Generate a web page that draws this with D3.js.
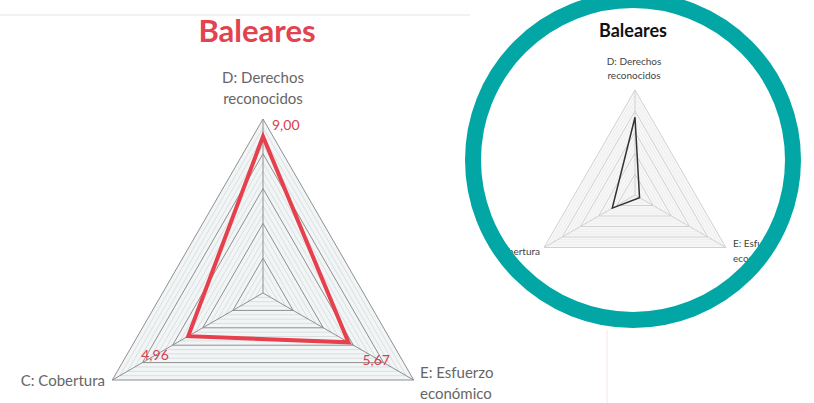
<!DOCTYPE html>
<html>
<head>
<meta charset="utf-8">
<script src="https://cdn.jsdelivr.net/npm/d3@7"></script>
<style>
  html, body { margin: 0; padding: 0; background: #ffffff; }
  svg { display: block; font-family: Lato, "Open Sans", sans-serif; }
</style>
</head>
<body>
<svg id="chart" width="814" height="403"></svg>
<script>
// ---- data ----
const title = "Baleares";
const axisKeys = ["D", "E", "C"];
const axisLabelLines = [["D: Derechos", "reconocidos"], ["E: Esfuerzo", "económico"], ["C: Cobertura"]];
const mainValues = [9.00, 5.67, 4.96];
const mainValueLabels = ["9,00", "5,67", "4,96"];
const insetValues = [7.4, 0.5, 2.5];
const gridLevels = [2, 4, 6, 8, 10];
const minorLevels = d3.range(0.5, 10, 0.5).filter(v => v % 2 !== 0);
const maxValue = 10;

const svg = d3.select("#chart");
const angle = i => i * 2 * Math.PI / axisKeys.length;

// faint background decorations
svg.append("line").attr("x1", 0).attr("x2", 470).attr("y1", 15).attr("y2", 15)
  .attr("stroke", "#f1f1f1").attr("stroke-width", 2);
svg.append("line").attr("x1", 607).attr("x2", 607).attr("y1", 330).attr("y2", 403)
  .attr("stroke", "#f8eded").attr("stroke-width", 1.5);

function radar(g, cx, cy, R, opts) {
  const r = d3.scaleLinear().domain([0, maxValue]).range([0, R]);
  const pt = (i, v) => [cx + r(v) * Math.sin(angle(i)), cy - r(v) * Math.cos(angle(i))];
  const ring = v => d3.lineRadial().angle((d, i) => angle(i)).radius(() => r(v)).curve(d3.curveLinearClosed)(axisKeys);
  const gg = g.append("g").attr("transform", `translate(${cx},${cy})`);
  gg.append("path").attr("d", ring(maxValue)).attr("fill", opts.fill);
  gg.selectAll("path.minor").data(minorLevels).join("path").attr("class", "minor")
    .attr("d", d => ring(d)).attr("fill", "none")
    .attr("stroke", opts.minor).attr("stroke-width", opts.minorW);
  gg.selectAll("path.major").data(gridLevels).join("path").attr("class", "major")
    .attr("d", d => ring(d)).attr("fill", "none")
    .attr("stroke", opts.major).attr("stroke-width", opts.majorW);
  gg.selectAll("line.spoke").data(axisKeys).join("line").attr("class", "spoke")
    .attr("x1", 0).attr("y1", 0)
    .attr("x2", (d, i) => r(maxValue) * Math.sin(angle(i)))
    .attr("y2", (d, i) => -r(maxValue) * Math.cos(angle(i)))
    .attr("stroke", opts.major).attr("stroke-width", opts.majorW);
  const line = d3.lineRadial().angle((d, i) => angle(i)).radius(d => r(d)).curve(d3.curveLinearClosed);
  gg.append("path").attr("d", line(opts.values)).attr("fill", "none")
    .attr("stroke", opts.dataColor).attr("stroke-width", opts.dataW).attr("stroke-linejoin", "miter");
  return pt;
}

// ---- main chart ----
const main = svg.append("g");
main.append("text").attr("x", 257).attr("y", 42).attr("text-anchor", "middle")
  .attr("font-size", 31).attr("font-weight", "bold").attr("fill", "#e2434e").text(title);

const mcx = 263, mcy = 293, mR = 174;
const mpt = radar(main, mcx, mcy, mR, {
  fill: "#f2f5f6", minor: "#d3d6d8", minorW: 0.7, major: "#8f8f8f", majorW: 1,
  values: mainValues, dataColor: "#e5404b", dataW: 4
});

// axis labels
const mainLabelPos = [
  { x: 263, y: 83, anchor: "middle" },
  { x: 420, y: 378, anchor: "start" },
  { x: 105, y: 386, anchor: "end" }
];
axisLabelLines.forEach((lines, i) => {
  const t = main.append("text").attr("x", mainLabelPos[i].x).attr("y", mainLabelPos[i].y)
    .attr("text-anchor", mainLabelPos[i].anchor).attr("font-size", 15).attr("fill", "#666");
  lines.forEach((l, j) => t.append("tspan").attr("x", mainLabelPos[i].x).attr("dy", j === 0 ? 0 : 21).text(l));
});

// value labels
const valOffsets = [[9, -6], [14, 23], [-47, 24]];
mainValues.forEach((v, i) => {
  const p = mpt(i, v);
  main.append("text").attr("x", p[0] + valOffsets[i][0]).attr("y", p[1] + valOffsets[i][1])
    .attr("font-size", 14).attr("fill", "#d8404c").text(mainValueLabels[i]);
});

// ---- inset ----
const icx = 633, icy = 160, ringR = 160, ringW = 16;
const defs = svg.append("defs");
defs.append("clipPath").attr("id", "insetClip").append("circle")
  .attr("cx", icx).attr("cy", icy).attr("r", ringR - ringW / 2 + 1);
const inset = svg.append("g").attr("clip-path", "url(#insetClip)");
inset.append("circle").attr("cx", icx).attr("cy", icy).attr("r", ringR).attr("fill", "#ffffff");
inset.append("text").attr("x", 633).attr("y", 37).attr("text-anchor", "middle")
  .attr("font-size", 18).attr("font-weight", "bold").attr("fill", "#111").text(title);

const ipt = radar(inset, 635, 195, 105, {
  fill: "#f7f7f7", minor: "#e8e8e8", minorW: 0.6, major: "#d0d0d0", majorW: 1,
  values: insetValues, dataColor: "#333", dataW: 1.5
});
const insetLabelPos = [
  { x: 634, y: 65, anchor: "middle", dy: 14 },
  { x: 733, y: 247, anchor: "start", dy: 15 },
  { x: 540, y: 255, anchor: "end", dy: 15 }
];
axisLabelLines.forEach((lines, i) => {
  const p = insetLabelPos[i];
  const t = inset.append("text").attr("x", p.x).attr("y", p.y)
    .attr("text-anchor", p.anchor).attr("font-size", 10).attr("fill", "#444");
  lines.forEach((l, j) => t.append("tspan").attr("x", p.x).attr("dy", j === 0 ? 0 : p.dy).text(l));
});

svg.append("circle").attr("cx", icx).attr("cy", icy).attr("r", ringR)
  .attr("fill", "none").attr("stroke", "#02a6a5").attr("stroke-width", ringW);
</script>
</body>
</html>
